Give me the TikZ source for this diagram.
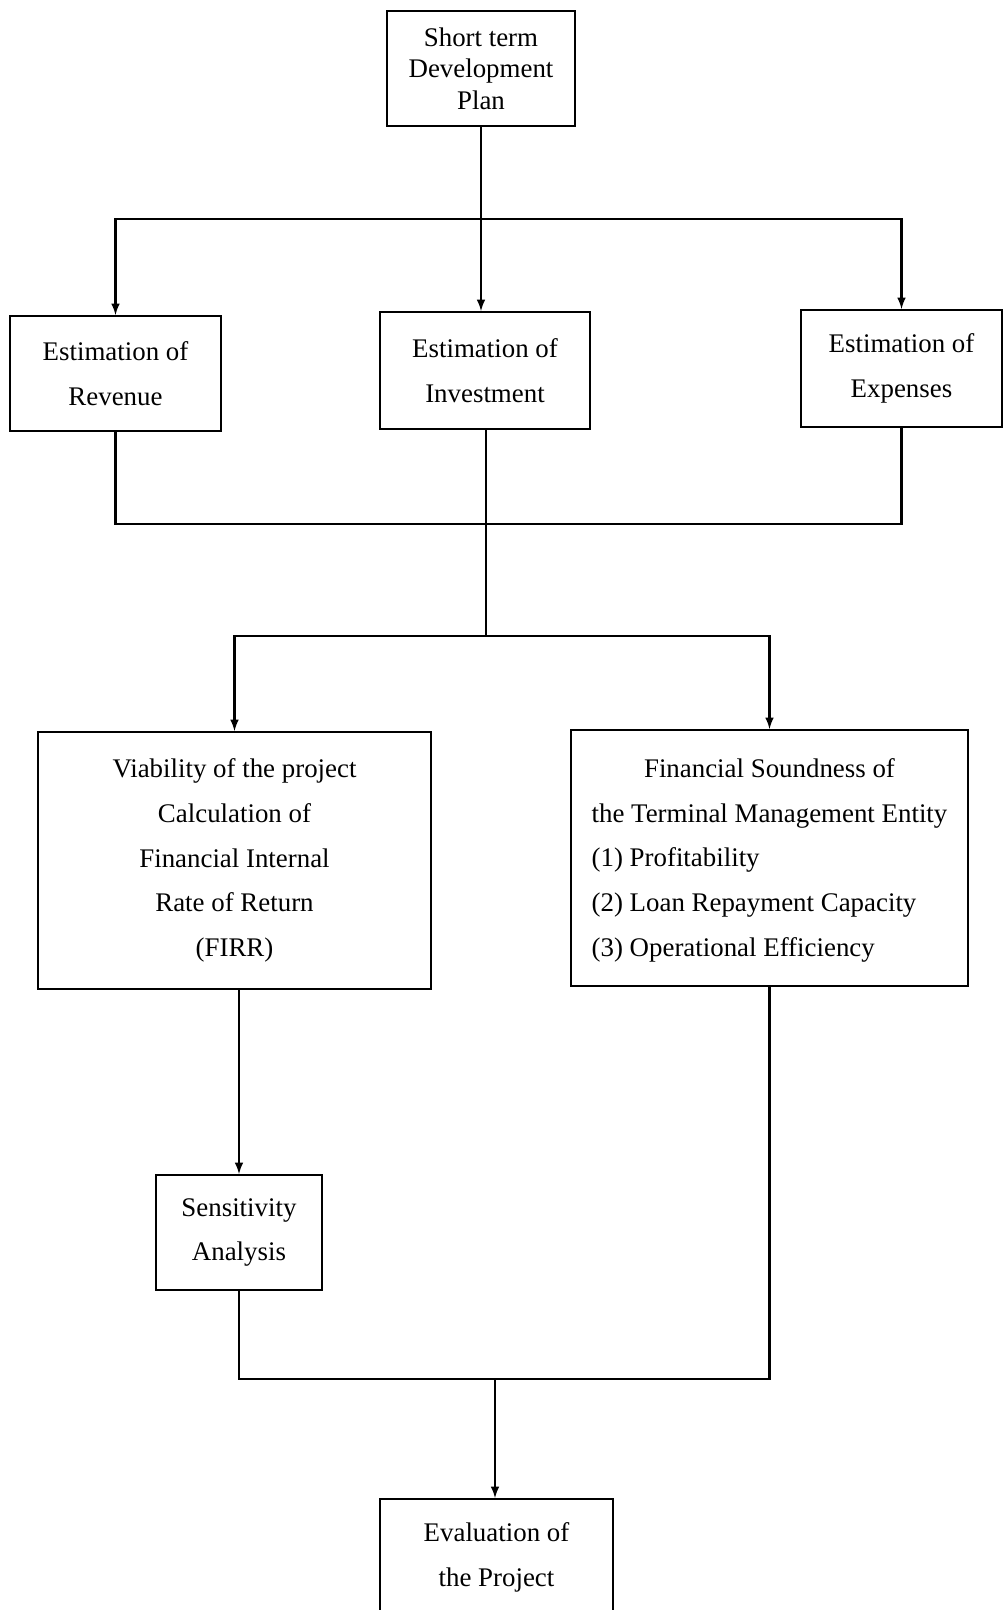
\documentclass[tikz,border=0pt]{standalone}
\usepackage{fontspec}
\setmainfont{Liberation Serif}
\usetikzlibrary{arrows}

\begin{document}
\begin{tikzpicture}
  [x=0.02cm,y=-0.02cm,>=latex,line width=1.2pt,
   box/.style={draw,align=center,inner sep=0pt,font=\fontsize{15.3}{25.5}\selectfont}]
  \clip (0,0) rectangle (1003,1610);

  \node[box,minimum width=3.76cm,minimum height=2.30cm,font=\fontsize{15.3}{18}\selectfont] (plan) at (481,68.5) {Short term\\Development\\Plan};
  \node[box,minimum width=4.22cm,minimum height=2.30cm] (revenue) at (115.5,373.5) {Estimation of\\Revenue};
  \node[box,minimum width=4.20cm,minimum height=2.34cm] (investment) at (485,370.5) {Estimation of\\Investment};
  \node[box,minimum width=4.02cm,minimum height=2.34cm] (expenses) at (901.5,368.5) {Estimation of\\Expenses};
  \node[box,minimum width=7.86cm,minimum height=5.14cm] (viability) at (234.5,860.5) {Viability of the project\\Calculation of\\Financial Internal\\Rate of Return\\(FIRR)};
  \node[box,minimum width=7.94cm,minimum height=5.12cm] (soundness) at (769.5,858)
    {\begin{tabular}{@{}l@{}}\multicolumn{1}{@{}c@{}}{Financial Soundness of}\\the Terminal Management Entity\\(1) Profitability\\(2) Loan Repayment Capacity\\(3) Operational Efficiency\end{tabular}};
  \node[box,minimum width=3.32cm,minimum height=2.30cm] (sensitivity) at (239,1232.5) {Sensitivity\\Analysis};
  \node[box,minimum width=4.66cm,minimum height=2.32cm] (evaluation) at (496.5,1557) {Evaluation of\\the Project};

  \coordinate (fork1) at (481,219);
  \coordinate (merge1) at (486,524);
  \coordinate (fork2) at (486,636);
  \coordinate (merge2) at (495,1379);

  \draw (plan) -- (fork1);
  \draw[->] (fork1) -| (revenue);
  \draw[->] (fork1) -| (expenses);
  \draw[->] (fork1) -- (fork1 |- investment.north);

  \draw (revenue) |- (merge1) -| (expenses);
  \draw (investment.south -| fork2) -- (fork2);
  \draw[->] (fork2) -| (viability);
  \draw[->] (fork2) -| (soundness);

  \draw[->] (viability.south -| sensitivity) -- (sensitivity);
  \draw (sensitivity) |- (merge2) -| (soundness);
  \draw[->] (merge2) -- (merge2 |- evaluation.north);

\end{tikzpicture}
\end{document}
